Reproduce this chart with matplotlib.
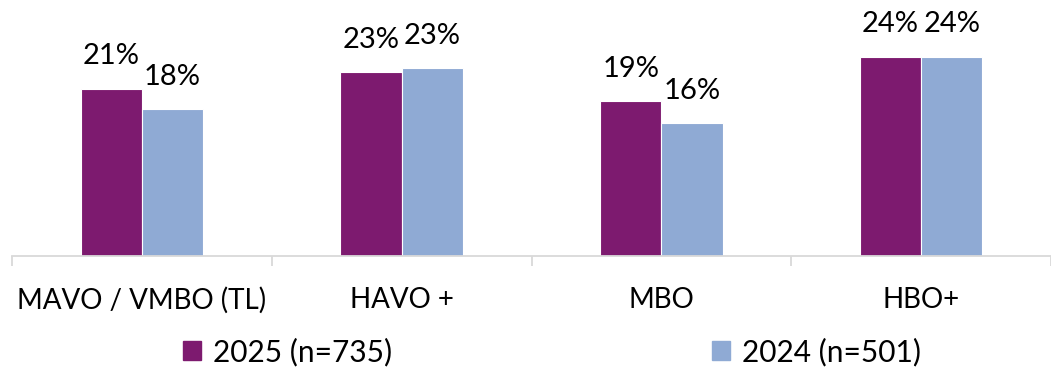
import matplotlib
matplotlib.use("Agg")
import matplotlib.pyplot as plt
import numpy as np
from matplotlib.patches import Patch

# data
categories = ["MAVO / VMBO (TL)", "HAVO +", "MBO", "HBO+"]
vals_2025 = [20.4, 22.4, 18.9, 24.3]
vals_2024 = [17.9, 22.9, 16.2, 24.3]
labels_2025 = ["21%", "23%", "19%", "24%"]
labels_2024 = ["18%", "23%", "16%", "24%"]
series_names = ["2025 (n=735)", "2024 (n=501)"]

purple = "#7d1a6f"
blue = "#8faad4"

plt.rcParams['font.family'] = ['Lato', 'DejaVu Sans']

fig = plt.figure(figsize=(10.51, 3.71), dpi=100)
ax = fig.add_axes([12/1051, 115/371, 1039/1051, 246/371])

x = np.arange(len(categories))
w = 0.236
b1 = ax.bar(x - w/2, vals_2025, w, color=purple, edgecolor="white", linewidth=0.8)
b2 = ax.bar(x + w/2, vals_2024, w, color=blue, edgecolor="white", linewidth=0.8)

for bars, labs in [(b1, labels_2025), (b2, labels_2024)]:
    for rect, lab in zip(bars, labs):
        ax.annotate(lab, (rect.get_x() + rect.get_width()/2, rect.get_height()),
                    xytext=(0, 14), textcoords="offset points",
                    ha="center", va="bottom", fontsize=21, color="#000000")

ax.set_xlim(-0.5, -0.5 + 1039/263.0)
ax.set_ylim(0, 246/8.2)

for s in ["top", "right", "left"]:
    ax.spines[s].set_visible(False)
ax.spines["bottom"].set_color("#d9d9d9")
ax.spines["bottom"].set_linewidth(1.3)
ax.set_yticks([])

ax.set_xticks(x)
ax.set_xticklabels(categories, fontsize=20)
ax.tick_params(axis="x", which="major", length=0, pad=22)
ax.set_xticks(np.arange(len(categories) + 1) - 0.5, minor=True)
ax.tick_params(axis="x", which="minor", length=7, color="#d9d9d9", width=1.3)

handles = [Patch(color=purple), Patch(color=blue)]
fig.legend(handles, series_names, loc="center", bbox_to_anchor=(552/1051, 1 - 352/371),
           ncol=2, frameon=False, fontsize=21.5, handlelength=0.6, handleheight=0.6,
           handletextpad=0.4, columnspacing=10.7)

fig.savefig("out.png", dpi=100)
